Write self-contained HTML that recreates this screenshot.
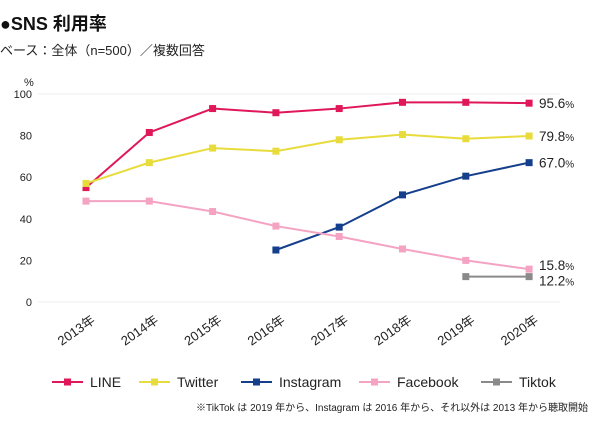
<!DOCTYPE html>
<html><head><meta charset="utf-8"><style>
body{margin:0;background:#fff;width:600px;height:432px;overflow:hidden;font-family:"Liberation Sans","Noto Sans CJK JP",sans-serif}
svg text{font-family:"Liberation Sans","Noto Sans CJK JP",sans-serif}
</style></head><body>
<svg id="c" width="600" height="432">
<text x="0" y="30" font-size="18" font-weight="bold" fill="#111">●SNS 利用率</text>
<text x="0" y="55" font-size="13" fill="#222">ベース：全体（n=500）／複数回答</text>
<text x="24" y="86" font-size="11" fill="#222">%</text>
<text x="196" y="411" font-size="10" fill="#222">※TikTok は 2019 年から、Instagram は 2016 年から、それ以外は 2013 年から聴取開始</text>
<g id="plot"></g>
</svg>
<script>
const years=["2013年","2014年","2015年","2016年","2017年","2018年","2019年","2020年"];
const yTicks=[0,20,40,60,80,100];
const lineVals=[55,81.5,93,91,93,96,96,95.6];
const twitterVals=[57,67,74,72.5,78,80.5,78.5,79.8];
const instagramVals=[null,null,null,25,36,51.5,60.5,67.0];
const facebookVals=[48.5,48.5,43.5,36.5,31.5,25.5,20,15.8];
const tiktokVals=[null,null,null,null,null,null,12.2,12.2];
const seriesNames=["LINE","Twitter","Instagram","Facebook","Tiktok"];
const seriesColors=["#e0185a","#e8dc3c","#153f8c","#f4a3c3","#8a8a8a"];
const endLabels=["95.6","79.8","67.0","15.8","12.2"];
const all=[lineVals,twitterVals,instagramVals,facebookVals,tiktokVals];
const NS="http://www.w3.org/2000/svg";
const g=document.getElementById('plot');
const xS=i=>86+i*63.3;
const yS=v=>302-v*2.08;
function mk(t,a,p){const e=document.createElementNS(NS,t);for(const k in a)e.setAttribute(k,a[k]);(p||g).appendChild(e);return e;}
yTicks.forEach(v=>{
 if(v===0||v===100){
 const l=mk('line',{x1:38,x2:560,y1:yS(v),y2:yS(v),stroke:'#eee','stroke-width':1});
 
 
 }
 const t=mk('text',{x:32,y:yS(v)+4,'text-anchor':'end','font-size':11,fill:'#222'});
 t.textContent=v;
 
 
});
years.forEach((y,i)=>{
 const t=mk('text',{x:xS(i)+10,y:322,'text-anchor':'end','font-size':13,fill:'#222',transform:`rotate(-35 ${xS(i)+10} 322)`});
 t.textContent=y;
 
 
});
all.forEach((vals,s)=>{
 const pts=[];vals.forEach((v,i)=>{if(v!=null)pts.push([xS(i),yS(v)]);});
 const pl=mk('polyline',{points:pts.map(p=>p.join(',')).join(' '),fill:'none',stroke:seriesColors[s],'stroke-width':2});
 
 
 pts.forEach((p,k)=>{
  const r=mk('rect',{x:p[0]-3.5,y:p[1]-3.5,width:7,height:7,fill:seriesColors[s]});
  
  
 });
 const lv=vals[vals.length-1];
 let ly=yS(lv)+5; if(s==3)ly-=4; if(s==4)ly+=4;
 const t=mk('text',{x:539,y:ly,'font-size':13.5,fill:'#222'});
 t.innerHTML=endLabels[s]+'<tspan font-size="10">%</tspan>';
 
 
});
const lx=[52,139,241,359,481];
seriesNames.forEach((n,s)=>{
 const grp=mk('g',{});
 
 
 mk('line',{x1:lx[s],x2:lx[s]+31,y1:382,y2:382,stroke:seriesColors[s],'stroke-width':2},grp);
 mk('rect',{x:lx[s]+12,y:378.5,width:7,height:7,fill:seriesColors[s]},grp);
 const t=mk('text',{x:lx[s]+38,y:387,'font-size':14,fill:'#222'},grp);
 t.textContent=n;
});
</script>
</body></html>
